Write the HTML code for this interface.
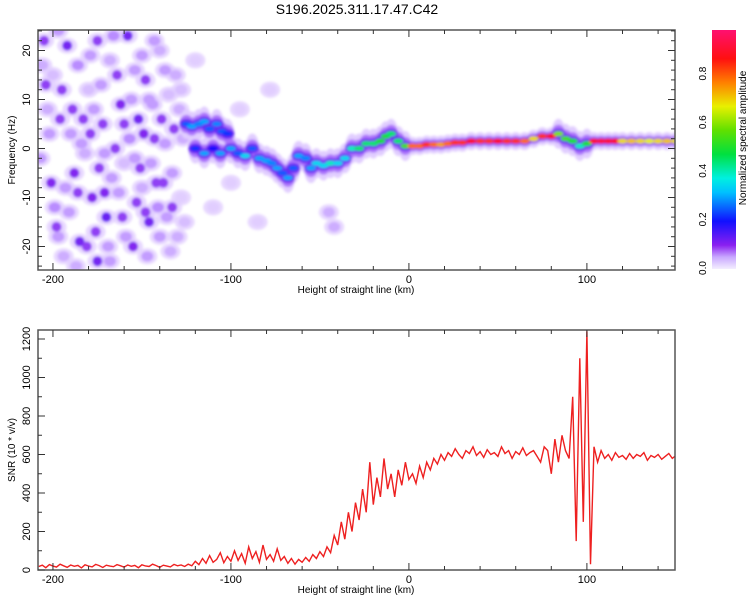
<!DOCTYPE html>
<html><head><meta charset="utf-8"><style>
body{margin:0;background:#fff;}
svg text{font-family:"Liberation Sans",sans-serif;fill:#000;}
</style></head><body>
<svg id="c" width="750" height="600" xmlns="http://www.w3.org/2000/svg">
<text x="357" y="14" font-size="14" text-anchor="middle">S196.2025.311.17.47.C42</text>
<defs><filter id="bl" x="-50%" y="-50%" width="200%" height="200%"><feGaussianBlur stdDeviation="1.2"/></filter>
<linearGradient id="cbg" x1="0" y1="1" x2="0" y2="0">
<stop offset="0" stop-color="#f4eeff"/><stop offset="0.05" stop-color="#c9a8ff"/><stop offset="0.1" stop-color="#8a20f0"/><stop offset="0.2" stop-color="#1010ff"/><stop offset="0.32" stop-color="#00c0ff"/><stop offset="0.38" stop-color="#00f0e0"/><stop offset="0.48" stop-color="#00e040"/><stop offset="0.58" stop-color="#60e000"/><stop offset="0.68" stop-color="#e8f000"/><stop offset="0.78" stop-color="#ff8000"/><stop offset="0.88" stop-color="#ff1010"/><stop offset="1" stop-color="#ff1070"/></linearGradient>
<clipPath id="cp1"><rect x="38" y="30" width="637" height="240"/></clipPath>
<clipPath id="cp2"><rect x="38" y="330" width="637" height="240"/></clipPath>
</defs>
<g id="spec" clip-path="url(#cp1)" filter="url(#bl)"></g>
<g id="snr" clip-path="url(#cp2)"></g>
<g id="axes"></g>
</svg>
<script>
const noiseH=[-205,-200,-196,-192,-188,-185,-180,-178,-175,-172,-170,-168,-165,-162,-160,-158,-155,-152,-150,-148,-146,-143,-140,-138,-135,-132,-130,-128,-207,-203,-199,-194,-190,-186,-182,-177,-174,-169,-166,-163,-157,-154,-151,-147,-144,-141,-137,-134,-131,-127,-204,-198,-193,-183,-179,-176,-171,-161,-156,-149,-145,-139,-136,-110,-95,-85,-78,-120,-45,-42,-100,
-206,-201,-197,-195,-191,-189,-187,-184,-181,-179,-173,-171,-167,-164,-159,-153,-150,-146,-142,-140,-137,-133,-129,-126,-202,-197,-186,-175,-168,-160,-154,-148,-143,-133,-128];
const noiseF=[22,15,6,21,-5,-19,12,-10,-23,5,-14,18,0,9,-3,23,-20,6,-8,14,-15,2,20,-7,11,4,-18,-10,-2,8,-12,-22,3,17,-1,8,-4,-20,23,-9,2,16,-4,-22,9,-12,1,-21,15,2,13,-16,-8,6,19,-17,-1,-14,10,3,-3,6,-14,-12,8,-15,12,18,-13,-16,-7,
17,-7,-18,12,-13,8,-24,1,-20,3,13,-9,-6,15,-18,-11,19,10,-7,-18,16,-5,8,-15,3,24,-9,22,-23,5,-2,-13,22,-12,12];
const noiseA=[.1,.04,.1,.12,.11,.12,.04,.11,.12,.1,.13,.05,.1,.11,.04,.12,.11,.12,.05,.1,.12,.1,.05,.1,.04,.1,.05,.03,.06,.05,.07,.05,.06,.07,.05,.06,.1,.06,.07,.06,.07,.06,.1,.06,.06,.07,.06,.05,.05,.05,.1,.1,.06,.1,.06,.1,.06,.1,.06,.11,.06,.1,.06,.03,.03,.03,.03,.03,.05,.05,.03,
.05,.11,.06,.1,.06,.1,.05,.06,.1,.1,.06,.11,.06,.1,.06,.1,.06,.06,.1,.06,.06,.06,.05,.04,.06,.06,.1,.1,.06,.1,.06,.1,.06,.1,.04];
const ridgeH=[-125,-122,-118,-115,-112,-108,-105,-102,-120,-115,-110,-106,-100,-96,-92,-88,-84,-80,-77,-74,-71,-68,-65,-62,-58,-55,-52,-48,-44,-40,-36,-32,-28,-24,-20,-16,-13,-10,-6,-2,2,6,10,14,18,22,26,30,35,40,45,50,55,60,65,70,75,80,84,88,92,96,100,104,108,112,116,120,125,130,135,140,145,150];
const ridgeF=[5,4.5,5,5.5,4,5,3.5,3,0,-1,0,-1,0,-1,-1.5,0,-2,-2.5,-3,-4,-5,-6,-4,-1.5,-2,-4,-3,-3.5,-3,-3,-2,0,0,1,1,1.5,2.5,3,1.5,0.5,0.5,0.5,0.8,0.8,0.8,1,1.2,1.2,1.5,1.5,1.5,1.5,1.5,1.5,1.5,2,2.5,2.5,3,2,1.5,0.5,1,1.5,1.5,1.5,1.5,1.5,1.5,1.5,1.5,1.5,1.5,1.5];
const ridgeA=[.25,.3,.28,.3,.25,.28,.25,.22,.22,.3,.2,.3,.3,.25,.35,.25,.3,.3,.28,.3,.25,.3,.25,.3,.28,.3,.35,.35,.4,.35,.35,.4,.45,.45,.45,.5,.5,.45,.45,.55,.8,.8,.85,.8,.75,.8,.85,.85,.88,.85,.85,.88,.85,.85,.8,.7,.85,.88,.6,.55,.5,.4,.5,.9,.92,.9,.88,.7,.72,.7,.68,.7,.72,.7];
const snrVals=[18,25,12,28,20,15,30,22,14,26,19,24,11,27,21,16,29,23,13,25,20,17,28,22,15,26,19,24,12,27,21,18,30,23,14,25,20,16,29,22,26,18,
30,22,45,28,60,35,75,40,55,90,38,70,45,100,50,85,35,120,60,95,40,130,55,80,45,
110,50,70,35,60,30,55,40,65,45,80,60,95,70,
120,90,180,130,250,160,300,200,350,
260,420,300,560,340,480,380,580,420,500,380,520,440,560,470,
500,450,540,480,560,520,580,550,600,570,
610,590,630,600,580,620,605,640,595,615,585,625,600,610,590,640,605,620,580,615,600,635,595,610,620,590,560,640,620,500,680,560,700,620,580,
900,150,1100,250,1240,30,
640,560,620,580,600,570,610,585,595,575,605,580,600,590,610,570,595,585,600,575,590,605,580,595];
const xTicks=[-200,-100,0,100];
const fTicks=[-20,-10,0,10,20];
const snrTicks=[0,200,400,600,800,1000,1200];
const cbTicks=[0.0,0.2,0.4,0.6,0.8];

const NS="http://www.w3.org/2000/svg";
const X0=38,X1=675,HMIN=-208.4,HMAX=149.5;
const xs=h=>X0+(h-HMIN)/(HMAX-HMIN)*(X1-X0);
const yf=f=>148.5-f*4.9;
const ys=v=>570-v*0.1925;
const yc=v=>268-v*243;
function mk(p,tag,at){const e=document.createElementNS(NS,tag);for(const k in at)e.setAttribute(k,at[k]);p.appendChild(e);return e;}
const stops=[[0,[244,238,255]],[0.03,[225,205,255]],[0.07,[185,140,255]],[0.11,[130,40,240]],[0.2,[16,16,255]],[0.32,[0,192,255]],[0.38,[0,240,224]],[0.48,[0,224,64]],[0.58,[96,224,0]],[0.68,[232,240,0]],[0.78,[255,128,0]],[0.88,[255,16,16]],[1,[255,16,112]]];
function cmap(v){for(let i=1;i<stops.length;i++){if(v<=stops[i][0]){const a=stops[i-1],b=stops[i],t=(v-a[0])/(b[0]-a[0]);return 'rgb('+a[1].map((c,j)=>Math.round(c+(b[1][j]-c)*t)).join(',')+')';}}return 'rgb(255,16,112)';}

const spec=document.getElementById('spec');
noiseH.forEach((h,i)=>{const e=mk(spec,'ellipse',{cx:xs(h),cy:yf(noiseF[i]),rx:10,ry:8,fill:cmap(0.03),opacity:0.8});

});
noiseH.forEach((h,i)=>{const e=mk(spec,'ellipse',{cx:xs(h),cy:yf(noiseF[i]),rx:noiseA[i]>0.08?5:6,ry:5,fill:cmap(noiseA[i])});

});
[[0.03,15],[0.08,9],[0.13,5],[-1,3]].forEach(([lv,ry])=>{
ridgeH.forEach((h,i)=>{const v=lv<0?ridgeA[i]:Math.min(lv,ridgeA[i]);const e=mk(spec,'ellipse',{cx:xs(h),cy:yf(ridgeF[i]),rx:lv<0?5:7,ry:lv<0?2.5:ry*(ridgeA[i]>0.6?0.6:1),fill:cmap(v)});

});});

const snr=document.getElementById('snr');
const pts=snrVals.map((v,i)=>xs(-208+2*i).toFixed(1)+','+ys(v).toFixed(1)).join(' ');
const pl=mk(snr,'polyline',{points:pts,fill:'none',stroke:'#ee2020','stroke-width':1.4});



const ax=document.getElementById('axes');
function frame(y0,y1,nm){const r=mk(ax,'rect',{x:X0,y:y0,width:X1-X0,height:y1-y0,fill:'none',stroke:'#555','stroke-width':1.5});


for(let h=-200;h<=140;h+=20){const x=xs(h),L=h%100===0?7:4;mk(ax,'line',{x1:x,x2:x,y1:y1,y2:y1-L,stroke:'#333'});mk(ax,'line',{x1:x,x2:x,y1:y0,y2:y0+L,stroke:'#333'});}
xTicks.forEach(h=>{const t=mk(ax,'text',{x:xs(h),y:y1+13,'font-size':11,'text-anchor':'middle'});t.textContent=h;

});
const xt=mk(ax,'text',{x:356,y:y1+23,'font-size':10,'text-anchor':'middle'});xt.textContent='Height of straight line (km)';

}
frame(30,270,'spectrogram-frame');frame(330,570,'snr-frame');
for(let f=-24;f<=24;f+=2){const y=yf(f),L=f%10===0?7:4;mk(ax,'line',{x1:X0,x2:X0+L,y1:y,y2:y,stroke:'#333'});mk(ax,'line',{x1:X1,x2:X1-L,y1:y,y2:y,stroke:'#333'});}
fTicks.forEach(f=>{const t=mk(ax,'text',{x:0,y:0,'font-size':11,'text-anchor':'middle',transform:`translate(30,${yf(f)}) rotate(-90)`});t.textContent=f;

});
for(let v=0;v<=1200;v+=100){const y=ys(v),L=v%200===0?7:4;mk(ax,'line',{x1:X0,x2:X0+L,y1:y,y2:y,stroke:'#333'});}
snrTicks.forEach(v=>{const t=mk(ax,'text',{x:0,y:0,'font-size':11,'text-anchor':'middle',transform:`translate(30,${ys(v)}) rotate(-90)`});t.textContent=v;

});
const yt1=mk(ax,'text',{x:0,y:0,'font-size':10,'text-anchor':'middle',transform:'translate(15,150) rotate(-90)'});yt1.textContent='Frequency (Hz)';


const yt2=mk(ax,'text',{x:0,y:0,'font-size':10,'text-anchor':'middle',transform:'translate(15,450) rotate(-90)'});yt2.textContent='SNR (10 * v/v)';


const cb=mk(ax,'rect',{x:712,y:30,width:24,height:239,fill:'url(#cbg)'});


cbTicks.forEach(v=>{const t=mk(ax,'text',{x:0,y:0,'font-size':10,'text-anchor':'middle',transform:`translate(706,${yc(v)}) rotate(-90)`});t.textContent=v.toFixed(1);

});
const ct=mk(ax,'text',{x:0,y:0,'font-size':10,'text-anchor':'middle',transform:'translate(746,138) rotate(-90)'});ct.textContent='Normalized spectral amplitude';


</script>
</body></html>
